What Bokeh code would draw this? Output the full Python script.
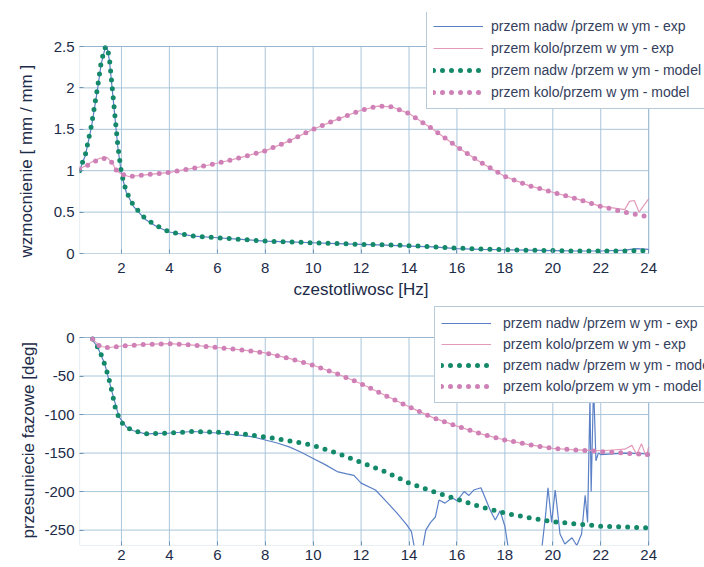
from bokeh.plotting import figure
from bokeh.models import Range1d, FixedTicker, Legend, LegendItem, BoxAnnotation, Title
from bokeh.layouts import column
from bokeh.embed import file_html
from bokeh.resources import INLINE

# ---------------- data ----------------
freq_ticks = [2, 4, 6, 8, 10, 12, 14, 16, 18, 20, 22, 24]
freq_min, freq_max = 0.25, 24
mag_ticks = [0, 0.5, 1, 1.5, 2, 2.5]
mag_tick_labels = ["0", "0.5", "1", "1.5", "2", "2.5"]
mag_min, mag_max = 0, 2.5
ph_ticks = [-250, -200, -150, -100, -50, 0]
ph_tick_labels = ["-250", "-200", "-150", "-100", "-50", "0"]
ph_min, ph_max = -270, 0

legend_labels = [
    "przem nadw /przem w ym - exp",
    "przem kolo/przem w ym - exp",
    "przem nadw /przem w ym - model",
    "przem kolo/przem w ym - model",
]

# magnitude, nadwozie / wymuszenie, model
mag_nadw_model_x = [0.25, 0.5, 0.75, 1.0, 1.15, 1.3, 1.4, 1.5, 1.6, 1.7, 1.85, 2.0, 2.2, 2.5, 3.0, 3.5,
                    4, 5, 6, 7, 8, 9, 10, 11, 12, 13, 14, 15, 16, 17, 18, 19, 20, 21, 22, 23, 24]
mag_nadw_model_y = [1.0, 1.2, 1.55, 2.0, 2.3, 2.48, 2.5, 2.35, 2.05, 1.75, 1.3, 0.97, 0.75, 0.58, 0.42, 0.33,
                    0.26, 0.21, 0.19, 0.17, 0.15, 0.14, 0.13, 0.12, 0.11, 0.105, 0.095, 0.08, 0.065, 0.055,
                    0.045, 0.04, 0.035, 0.03, 0.03, 0.03, 0.035]
# magnitude, nadwozie / wymuszenie, experiment
mag_nadw_exp_x = [0.25, 0.5, 0.75, 1.0, 1.15, 1.3, 1.4, 1.5, 1.6, 1.7, 1.85, 2.0, 2.2, 2.5, 3.0, 3.5,
                  4, 5, 6, 7, 8, 9, 10, 11, 12, 13, 14, 15, 16, 17, 18, 19, 20, 21, 22, 23, 23.5, 24]
mag_nadw_exp_y = [1.0, 1.19, 1.53, 1.98, 2.28, 2.46, 2.49, 2.33, 2.03, 1.73, 1.28, 0.96, 0.74, 0.57, 0.41, 0.32,
                  0.26, 0.21, 0.19, 0.17, 0.15, 0.14, 0.13, 0.12, 0.11, 0.10, 0.09, 0.08, 0.06, 0.05,
                  0.045, 0.04, 0.035, 0.03, 0.03, 0.04, 0.06, 0.05]
# magnitude, kolo / wymuszenie, model
mag_kolo_model_x = [0.25, 0.5, 0.8, 1.1, 1.4, 1.6, 1.8, 2.0, 2.3, 2.7, 3, 4, 5, 6, 7, 8, 9, 10, 11, 12,
                    12.7, 13.3, 14, 15, 16, 17, 18, 19, 20, 21, 22, 23, 23.5, 24]
mag_kolo_model_y = [1.02, 1.05, 1.1, 1.14, 1.15, 1.1, 1.0, 0.96, 0.93, 0.94, 0.95, 0.98, 1.03, 1.09, 1.16,
                    1.24, 1.36, 1.5, 1.62, 1.73, 1.78, 1.77, 1.69, 1.5, 1.29, 1.1, 0.93, 0.82, 0.74, 0.66,
                    0.57, 0.5, 0.47, 0.44]
# magnitude, kolo / wymuszenie, experiment
mag_kolo_exp_x = [0.25, 0.5, 0.8, 1.1, 1.4, 1.6, 1.8, 2.0, 2.3, 2.7, 3, 4, 5, 6, 7, 8, 9, 10, 11, 12,
                  12.7, 13.3, 14, 15, 16, 17, 18, 19, 20, 21, 22, 22.5, 23, 23.2, 23.4, 23.6, 23.8, 24]
mag_kolo_exp_y = [1.02, 1.06, 1.11, 1.15, 1.16, 1.1, 1.0, 0.96, 0.93, 0.94, 0.95, 0.98, 1.03, 1.09, 1.16,
                  1.24, 1.36, 1.5, 1.62, 1.73, 1.78, 1.77, 1.69, 1.5, 1.29, 1.1, 0.93, 0.82, 0.74, 0.66,
                  0.57, 0.55, 0.53, 0.63, 0.64, 0.5, 0.58, 0.66]

# phase, nadwozie / wymuszenie, model
ph_nadw_model_x = [0.8, 1.0, 1.15, 1.3, 1.45, 1.6, 1.75, 1.9, 2.0, 2.2, 2.5, 3, 4, 5, 6, 7, 8, 9, 10, 11,
                   12, 13, 14, 15, 16, 17, 18, 19, 20, 21, 22, 23, 24]
ph_nadw_model_y = [-2, -12, -22, -35, -50, -70, -92, -104, -110, -116, -121, -125, -124, -122, -123, -125,
                   -129, -134, -140, -150, -162, -174, -189, -200, -210, -220, -228, -234, -239, -242,
                   -245, -246, -247]
# phase, nadwozie / wymuszenie, experiment
ph_nadw_exp_x = [0.7, 1.0, 1.3, 1.6, 1.9, 2.2, 2.5, 3, 4, 5, 6, 7, 7.5, 8, 8.5, 9, 9.5, 10, 10.5, 11, 11.4,
                 11.7, 12, 12.6, 13, 13.5, 13.9, 14.1, 14.3, 14.5, 14.7, 14.9, 15.1, 15.25, 15.5, 15.8,
                 16.0, 16.3, 16.5, 16.7, 17.0, 17.2, 17.4, 17.6, 17.8, 18.0, 18.2, 19.5, 19.7, 19.8,
                 19.95, 20.1, 20.3, 20.5, 20.8, 21.0, 21.2, 21.35, 21.45, 21.55, 21.6, 21.7, 21.8, 21.9,
                 22.0, 23.0, 24.0]
ph_nadw_exp_y = [0, -12, -34, -70, -103, -116, -121, -125, -124, -122, -124, -127, -129, -133, -137, -142,
                 -149, -157, -165, -174, -177, -179, -189, -198, -211, -228, -243, -252, -285, -285, -250,
                 -240, -233, -211, -215, -208, -212, -200, -205, -198, -195, -210, -225, -237, -225, -245,
                 -285, -285, -230, -195, -240, -198, -255, -268, -260, -270, -255, -205, -240, -80, -200,
                 -60, -160, -150, -152, -150, -151]
# phase, kolo / wymuszenie, model
ph_kolo_model_x = [0.8, 1.0, 1.2, 1.5, 2, 3, 4, 5, 6, 7, 8, 9, 10, 11, 12, 13, 14, 15, 16, 17, 18, 19, 20,
                   21, 22, 23, 24]
ph_kolo_model_y = [-2, -9, -13, -13, -11, -9, -8, -10, -13, -16, -20, -27, -36, -47, -60, -75, -90, -104,
                   -115, -125, -133, -139, -144, -146, -148, -150, -152]
# phase, kolo / wymuszenie, experiment
ph_kolo_exp_x = [0.7, 1.0, 1.2, 1.5, 2, 3, 4, 5, 6, 7, 8, 9, 10, 11, 12, 13, 14, 15, 16, 17, 18, 19, 20,
                 21, 22, 22.5, 23, 23.3, 23.5, 23.7, 23.9, 24]
ph_kolo_exp_y = [0, -8, -12, -13, -11, -9, -8, -10, -13, -16, -20, -27, -36, -47, -60, -75, -90, -104,
                 -115, -125, -133, -139, -144, -146, -147, -146, -145, -140, -152, -138, -155, -142]

# ---------------- styles ----------------
FONT = "Liberation Sans"
TXT = "#1c2b48"
AXC = "#6f96b6"
GRID = "#a9c5da"
BLUE = "#5b80c6"
PINK = "#e39ab9"
GREEN = "#14896a"
PINKDOT = "#cf80b6"

W = 704


def ext_range(lo, hi, px_lo, px_hi, px_end_lo, px_end_hi):
    """extend a data range so that [lo, hi] sits at the given pixel positions inside a larger frame"""
    per = (hi - lo) / float(px_hi - px_lo)
    return Range1d(lo - (px_lo - px_end_lo) * per, hi + (px_end_hi - px_hi) * per)


def style(p, xticks, yticks, ylabels):
    p.background_fill_color = "white"
    p.border_fill_color = "white"
    p.outline_line_color = None
    p.xgrid.grid_line_color = None
    p.ygrid.grid_line_color = None
    for ax in (p.xaxis[0], p.yaxis[0]):
        ax.axis_line_color = None
        ax.major_tick_line_color = AXC
        ax.major_tick_in = 4
        ax.major_tick_out = 0
        ax.minor_tick_line_color = None
        ax.major_label_text_font = FONT
        ax.major_label_text_font_size = "15px"
        ax.major_label_text_color = TXT
    p.xaxis[0].ticker = FixedTicker(ticks=xticks)
    p.yaxis[0].ticker = FixedTicker(ticks=yticks)
    p.yaxis[0].major_label_overrides = {t: s for t, s in zip(yticks, ylabels)}
    p.yaxis[0].major_label_standoff = 5


def add_box_and_grid(p, ylo, yhi, yticks):
    n = len(freq_ticks)
    p.segment(x0=freq_ticks, y0=[ylo] * n, x1=freq_ticks, y1=[yhi] * n, line_color=GRID, line_width=1)
    m = len(yticks)
    p.segment(x0=[freq_min] * m, y0=yticks, x1=[freq_max] * m, y1=yticks, line_color=GRID, line_width=1)
    p.add_layout(BoxAnnotation(left=freq_min, right=freq_max, bottom=ylo, top=yhi,
                               fill_alpha=0, line_color=AXC, line_width=1.2))


def add_series(p, xs_list, ys_list):
    r1 = p.line(xs_list[0], ys_list[0], line_color=BLUE, line_width=1.2)
    r2 = p.line(xs_list[1], ys_list[1], line_color=PINK, line_width=1.2)
    r3 = p.line(xs_list[2], ys_list[2], line_color=GREEN, line_width=5,
                line_dash="0 9", line_cap="round", line_join="round")
    r4 = p.line(xs_list[3], ys_list[3], line_color=PINKDOT, line_width=5,
                line_dash="0 9", line_cap="round", line_join="round")
    return [r1, r2, r3, r4]


def add_legend(p, renderers, loc, standoff, padding, spacing):
    items = [LegendItem(label=l, renderers=[r]) for l, r in zip(legend_labels, renderers)]
    lg = Legend(items=items, location=loc, glyph_width=50, glyph_height=20, label_height=20,
                label_width=215, label_standoff=standoff, padding=padding, spacing=spacing, margin=0,
                label_text_font=FONT, label_text_font_size="14px", label_text_color="#34405c",
                border_line_color=AXC, border_line_width=1, background_fill_color="white",
                background_fill_alpha=1.0)
    p.add_layout(lg, "center")


def axis_title(p, text, side, offset, standoff, valign):
    t = Title(text=text, align="left", offset=offset, standoff=standoff, vertical_align=valign,
              text_font=FONT, text_font_size="17px", text_font_style="normal", text_color=TXT)
    p.add_layout(t, side)


# ---------------- top: magnitude ----------------
# plotting box: x 77..648, y 46..253 ; frame extended to 12 (top) and 704 (right) so the legend can overhang
p1 = figure(width=W, height=304, output_backend="svg", toolbar_location=None,
            x_range=ext_range(freq_min, freq_max, 77, 648, 77, 704),
            y_range=ext_range(mag_min, mag_max, 0, 207, 0, 241),
            min_border_left=77, min_border_right=0, min_border_top=12, min_border_bottom=51)
style(p1, freq_ticks, mag_ticks, mag_tick_labels)
p1.xaxis[0].major_label_standoff = 9
add_box_and_grid(p1, mag_min, mag_max, mag_ticks)
r_top = add_series(p1, [mag_nadw_exp_x, mag_kolo_exp_x, mag_nadw_model_x, mag_kolo_model_x],
                   [mag_nadw_exp_y, mag_kolo_exp_y, mag_nadw_model_y, mag_kolo_model_y])
add_legend(p1, r_top, (347, 144), 8, 6, 2)
axis_title(p1, "czestotliwosc [Hz]", "below", 214, 8, "top")
axis_title(p1, "wzmocnienie [ mm / mm ]", "left", -4, 29, "bottom")

# ---------------- bottom: phase ----------------
# plotting box: x 77..648, y 337..545 (page); frame top extended to 304
p2 = figure(width=W, height=263, output_backend="svg", toolbar_location=None,
            x_range=ext_range(freq_min, freq_max, 77, 648, 77, 704),
            y_range=ext_range(ph_min, ph_max, 0, 208, 0, 241),
            min_border_left=77, min_border_right=0, min_border_top=0, min_border_bottom=22)
style(p2, freq_ticks, ph_ticks, ph_tick_labels)
p2.xaxis[0].major_label_standoff = 4
add_box_and_grid(p2, ph_min, ph_max, ph_ticks)
r_bot = add_series(p2, [ph_nadw_exp_x, ph_kolo_exp_x, ph_nadw_model_x, ph_kolo_model_x],
                   [ph_nadw_exp_y, ph_kolo_exp_y, ph_nadw_model_y, ph_kolo_model_y])
add_legend(p2, r_bot, (355, 142), 12, 6, 1)
axis_title(p2, "przesuniecie fazowe [deg]", "left", 7, 7, "bottom")

layout = column(p1, p2, spacing=0)
open("out.html", "w").write(file_html(layout, INLINE))
